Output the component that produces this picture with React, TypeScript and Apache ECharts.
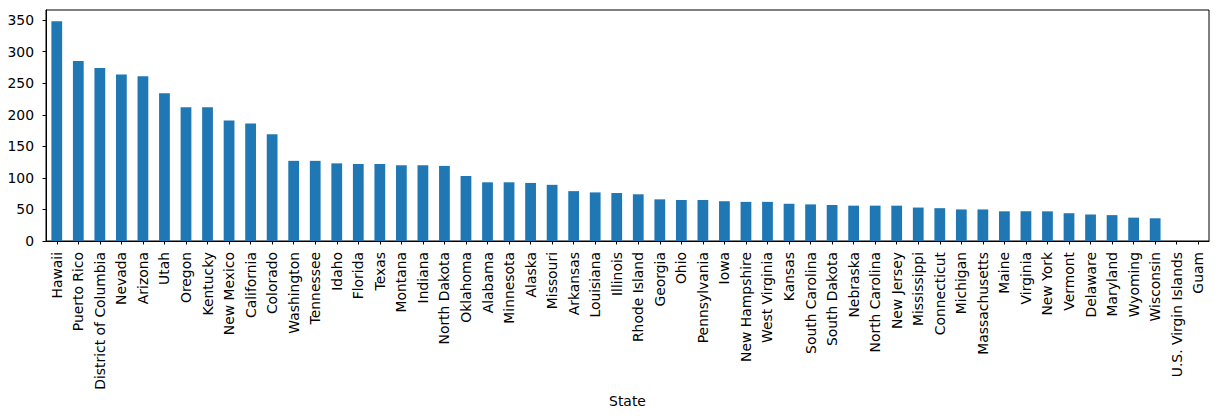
import React, { useEffect, useRef } from "react";
import * as echarts from "echarts";

const states = [
  "Hawaii", "Puerto Rico", "District of Columbia", "Nevada", "Arizona", "Utah", "Oregon", "Kentucky",
  "New Mexico", "California", "Colorado", "Washington", "Tennessee", "Idaho", "Florida", "Texas",
  "Montana", "Indiana", "North Dakota", "Oklahoma", "Alabama", "Minnesota", "Alaska", "Missouri",
  "Arkansas", "Louisiana", "Illinois", "Rhode Island", "Georgia", "Ohio", "Pennsylvania", "Iowa",
  "New Hampshire", "West Virginia", "Kansas", "South Carolina", "South Dakota", "Nebraska",
  "North Carolina", "New Jersey", "Mississippi", "Connecticut", "Michigan", "Massachusetts", "Maine",
  "Virginia", "New York", "Vermont", "Delaware", "Maryland", "Wyoming", "Wisconsin",
  "U.S. Virgin Islands", "Guam",
];

const values = [
  348, 285, 274, 264, 261, 234, 212, 212,
  191, 186, 169, 127, 127, 123, 122, 122,
  120, 120, 119, 103, 93, 93, 92, 89,
  79, 77, 76, 74, 66, 65, 65, 63,
  62, 62, 59, 58, 57, 56,
  56, 56, 53, 52, 50, 50, 47,
  47, 47, 44, 42, 41, 37, 36,
  0, 0,
];

const yTicks = [0, 50, 100, 150, 200, 250, 300, 350];
const yMax = 366;

export default function App() {
  const ref = useRef<HTMLDivElement>(null);
  useEffect(() => {
    if (!ref.current) return;
    const chart = echarts.init(ref.current, null, { renderer: "svg" });
    const font = "DejaVu Sans";
    chart.setOption({
      animation: false,
      backgroundColor: "#ffffff",
      grid: {
        left: 46,
        right: 9,
        top: 10,
        bottom: 177,
        show: true,
        borderColor: "#000",
        borderWidth: 1,
        backgroundColor: "transparent",
      },
      xAxis: {
        type: "category",
        data: states,
        boundaryGap: true,
        name: "State",
        nameLocation: "middle",
        nameGap: 153,
        nameMoveOverlap: false,
        nameTextStyle: { fontFamily: font, fontSize: 13.9, color: "#000" },
        axisLine: { show: true, lineStyle: { color: "#000", width: 1 } },
        axisTick: { show: true, alignWithLabel: true, interval: 0, length: 3.5, lineStyle: { color: "#000" } },
        axisLabel: {
          interval: 0,
          rotate: 90,
          margin: 11,
          fontFamily: font,
          fontSize: 13.9,
          color: "#000",
        },
        splitLine: { show: false },
      },
      yAxis: {
        type: "value",
        min: 0,
        max: yMax,
        axisLine: { show: true, lineStyle: { color: "#000", width: 1 } },
        axisTick: { show: true, length: 3.5, lineStyle: { color: "#000" }, customValues: yTicks },
        axisLabel: {
          margin: 12,
          fontFamily: font,
          fontSize: 13.9,
          color: "#000",
          customValues: yTicks,
        },
        splitLine: { show: false },
      },
      series: [
        {
          type: "bar",
          data: values,
          barWidth: "50%",
          itemStyle: { color: "#1f77b4" },
        },
      ],
    });
    return () => chart.dispose();
  }, []);
  return (
    <div
      ref={ref}
      style={{ position: "fixed", left: 0, top: 0, width: 1218, height: 418, background: "#fff" }}
    />
  );
}
